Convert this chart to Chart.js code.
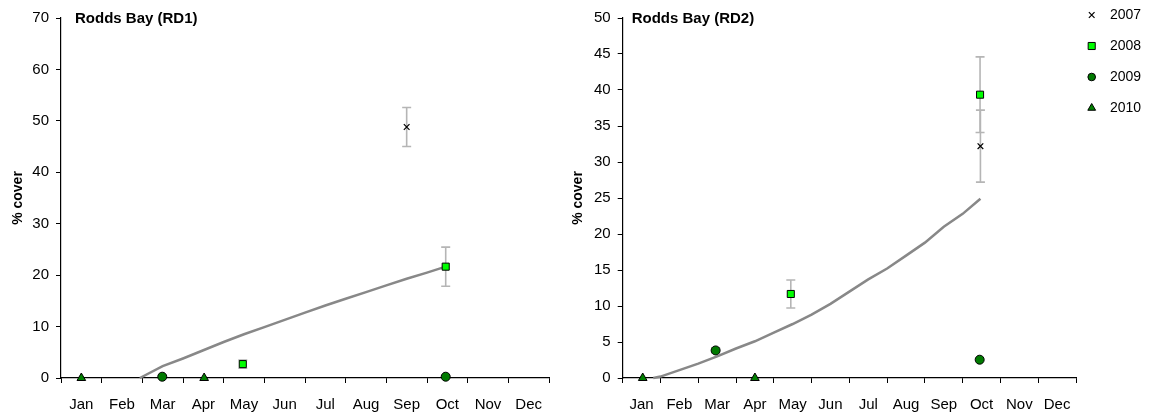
<!DOCTYPE html>
<html>
<head>
<meta charset="utf-8">
<script src="https://cdn.jsdelivr.net/npm/chart.js@4/dist/chart.umd.min.js"></script>
<style>
  body { margin: 0; background: #fff; }
  canvas { position: absolute; top: 0; }
  #rd1 { left: 0; }
  #rd2 { left: 560px; }
</style>
</head>
<body>
<canvas id="rd1" width="560" height="417"></canvas>
<canvas id="rd2" width="589" height="417"></canvas>
<script>
// month labels (x axis is months from 0 = start of Jan to 12 = end of Dec)
const months = ['Jan', 'Feb', 'Mar', 'Apr', 'May', 'Jun', 'Jul', 'Aug', 'Sep', 'Oct', 'Nov', 'Dec'];
const years = ['2007', '2008', '2009', '2010'];

// Rodds Bay (RD1)
const rd1X2007 = [8.5],         rd1Y2007 = [48.8],        rd1E2007 = [3.8];
const rd1X2008 = [4.47, 9.46],  rd1Y2008 = [2.7, 21.65],  rd1E2008 = [0.8, 3.8];
const rd1X2009 = [2.49, 9.46],  rd1Y2009 = [0.25, 0.25],  rd1E2009 = [0, 0];
const rd1X2010 = [0.5, 3.52],   rd1Y2010 = [0, 0],        rd1E2010 = [0, 0];
const rd1FitX = [1.94, 2.5, 3, 3.5, 4, 4.5, 5, 5.5, 6, 6.5, 7, 7.5, 8, 8.5, 9, 9.46];
const rd1FitY = [0, 2.3, 3.8, 5.4, 7.0, 8.5, 9.9, 11.3, 12.7, 14.1, 15.4, 16.7, 18.0, 19.3, 20.5, 21.65];

// Rodds Bay (RD2)
const rd2X2007 = [9.47],        rd2Y2007 = [32.2],        rd2E2007 = [5.0];
const rd2X2008 = [4.45, 9.46],  rd2Y2008 = [11.67, 39.35], rd2E2008 = [1.95, 5.25];
const rd2X2009 = [2.46, 9.45],  rd2Y2009 = [3.83, 2.54],  rd2E2009 = [0.35, 0];
const rd2X2010 = [0.53, 3.5],   rd2Y2010 = [0, 0],        rd2E2010 = [0, 0];
const rd2FitX = [0.81, 1, 1.5, 2, 2.5, 3, 3.5, 4, 4.5, 5, 5.5, 6, 6.5, 7, 7.5, 8, 8.5, 9, 9.47];
const rd2FitY = [0, 0.2, 1.1, 2.0, 3.0, 4.1, 5.1, 6.3, 7.5, 8.8, 10.3, 12.0, 13.7, 15.2, 17.0, 18.8, 21.0, 22.8, 24.9];

const FONT = "'Liberation Sans', Arial, sans-serif";
Chart.defaults.font.family = FONT;
Chart.defaults.color = '#000';

function pts(xs, ys) {
  return xs.map((x, i) => ({ x: x, y: ys[i] }));
}

// marker styles per year
const styles = {
  '2007': { pointStyle: 'crossRot', radius: 4, legendRadius: 4, bg: '#000', border: '#000', bw: 1.2 },
  '2008': { pointStyle: 'rect', radius: 5, legendRadius: 5, bg: '#00ff00', border: '#000', bw: 1 },
  '2009': { pointStyle: 'circle', radius: 4.5, legendRadius: 3.8, bg: '#007a00', border: '#000', bw: 1 },
  '2010': { pointStyle: 'triangle', radius: 5, legendRadius: 4.5, bg: '#008000', border: '#000', bw: 1 }
};

function yearSet(year, xs, ys, es) {
  const s = styles[year];
  return {
    label: year,
    data: pts(xs, ys),
    errors: es,
    inLegend: true,
    pointStyle: s.pointStyle,
    pointRadius: s.radius,
    legendRadius: s.legendRadius,
    backgroundColor: s.bg,
    borderColor: s.border,
    borderWidth: s.bw,
    pointBorderWidth: s.bw,
    clip: false,
    order: 1
  };
}

function fitSet(xs, ys) {
  return {
    label: 'fit',
    data: pts(xs, ys),
    showLine: true,
    pointRadius: 0,
    borderColor: '#888888',
    borderWidth: 2.5,
    clip: false,
    order: 10
  };
}

// vertical error bars with caps, drawn under the markers
const errorBars = {
  id: 'errorBars',
  beforeDatasetsDraw(chart) {
    const ctx = chart.ctx;
    const x = chart.scales.x, y = chart.scales.y;
    ctx.save();
    ctx.strokeStyle = '#b5b5b5';
    ctx.lineWidth = 1.6;
    chart.data.datasets.forEach(ds => {
      if (!ds.errors) return;
      ds.data.forEach((p, i) => {
        const e = ds.errors[i];
        if (!e) return;
        const px = x.getPixelForValue(p.x);
        const top = y.getPixelForValue(p.y + e);
        const bot = y.getPixelForValue(p.y - e);
        ctx.beginPath();
        ctx.moveTo(px, top); ctx.lineTo(px, bot);
        ctx.moveTo(px - 4.5, top); ctx.lineTo(px + 4.5, top);
        ctx.moveTo(px - 4.5, bot); ctx.lineTo(px + 4.5, bot);
        ctx.stroke();
      });
    });
    ctx.restore();
  }
};

// panel title inside the plot area
const panelTitle = {
  id: 'panelTitle',
  afterDraw(chart, args, opts) {
    if (!opts.text) return;
    const ctx = chart.ctx;
    ctx.save();
    ctx.font = 'bold 15px ' + FONT;
    ctx.fillStyle = '#000';
    ctx.textBaseline = 'middle';
    ctx.fillText(opts.text, chart.chartArea.left + opts.dx, opts.y);
    ctx.restore();
  }
};

// year legend to the right of the second panel
const sideLegend = {
  id: 'sideLegend',
  afterDraw(chart, args, opts) {
    if (!opts.show) return;
    const ctx = chart.ctx;
    ctx.save();
    ctx.font = '14px ' + FONT;
    ctx.textBaseline = 'middle';
    chart.data.datasets.filter(d => d.inLegend).forEach((d, i) => {
      const yy = opts.top + i * opts.step;
      ctx.fillStyle = d.backgroundColor;
      ctx.strokeStyle = d.borderColor;
      ctx.lineWidth = d.borderWidth;
      Chart.helpers.drawPoint(ctx, {
        pointStyle: d.pointStyle, radius: d.legendRadius, rotation: 0, borderWidth: d.borderWidth
      }, opts.markX, yy);
      ctx.fillStyle = '#000';
      ctx.fillText(d.label, opts.textX, yy);
    });
    ctx.restore();
  }
};

function isWhole(v) {
  return Math.abs(v - Math.round(v)) < 1e-6;
}

function makeChart(id, sets, yMax, yStep, title, titleDx, axisW, padRight, legend) {
  return new Chart(document.getElementById(id), {
    type: 'scatter',
    data: { datasets: sets },
    options: {
      responsive: false,
      animation: false,
      events: [],
      layout: { padding: { top: 18, right: padRight, left: 0, bottom: 0 } },
      plugins: {
        legend: { display: false },
        tooltip: { enabled: false },
        panelTitle: { text: title, dx: titleDx, y: 18.5 },
        sideLegend: legend
      },
      scales: {
        x: {
          type: 'linear',
          min: 0,
          max: 12,
          ticks: {
            stepSize: 0.5,
            autoSkip: false,
            maxRotation: 0,
            padding: 13,
            font: { size: 15 },
            callback: v => isWhole(v) ? '' : months[Math.floor(v)]
          },
          grid: {
            drawOnChartArea: false,
            tickLength: 5,
            tickColor: c => (c.tick && isWhole(c.tick.value)) ? '#000' : 'rgba(0,0,0,0)'
          },
          border: { color: '#000', width: 1.2 },
          afterFit(s) {
            s.height = 39;
            // edge labels are empty, so no extra side padding is needed
            s.paddingLeft = 0;
            s.paddingRight = 0;
          }
        },
        y: {
          min: 0,
          max: yMax,
          ticks: { stepSize: yStep, padding: 7, font: { size: 15 } },
          grid: { drawOnChartArea: false, tickLength: 5, tickColor: '#000' },
          border: { color: '#000', width: 1.2 },
          title: {
            display: true,
            text: '% cover',
            font: { size: 14, weight: 'bold' },
            padding: { top: 10, bottom: 0 }
          },
          afterFit(s) { s.width = axisW; }
        }
      }
    },
    plugins: [errorBars, panelTitle, sideLegend]
  });
}

makeChart('rd1', [
  yearSet('2007', rd1X2007, rd1Y2007, rd1E2007),
  yearSet('2008', rd1X2008, rd1Y2008, rd1E2008),
  yearSet('2009', rd1X2009, rd1Y2009, rd1E2009),
  yearSet('2010', rd1X2010, rd1Y2010, rd1E2010),
  fitSet(rd1FitX, rd1FitY)
], 70, 10, 'Rodds Bay (RD1)', 14, 61, 11, { show: false });

makeChart('rd2', [
  yearSet('2007', rd2X2007, rd2Y2007, rd2E2007),
  yearSet('2008', rd2X2008, rd2Y2008, rd2E2008),
  yearSet('2009', rd2X2009, rd2Y2009, rd2E2009),
  yearSet('2010', rd2X2010, rd2Y2010, rd2E2010),
  fitSet(rd2FitX, rd2FitY)
], 50, 5, 'Rodds Bay (RD2)', 9, 62.7, 73,
  { show: true, markX: 531.7, textX: 550, top: 15, step: 31 });
</script>
</body>
</html>
